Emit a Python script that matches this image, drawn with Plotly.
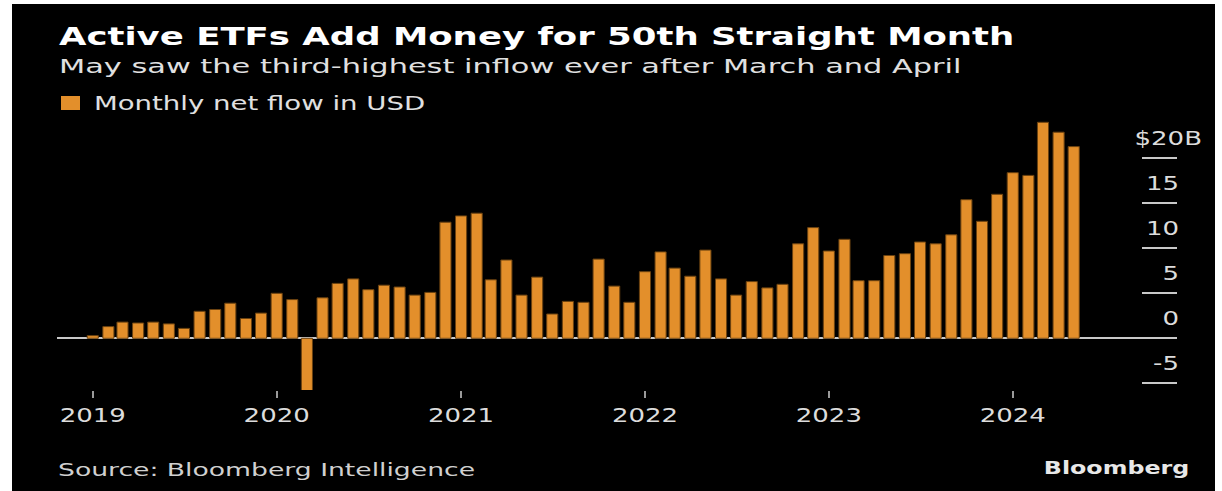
import plotly.graph_objects as go
import pandas as pd

# ---- data ----
months = pd.date_range("2019-01-01", "2024-05-01", freq="MS").strftime("%Y-%m-%d").tolist()
net_flow_busd = [
    0.3, 1.3, 1.8, 1.7, 1.8, 1.6, 1.1, 3.0, 3.2, 3.9, 2.2, 2.8,      # 2019
    5.0, 4.3, -5.8, 4.5, 6.1, 6.6, 5.4, 5.9, 5.7, 4.8, 5.1, 12.9,    # 2020
    13.6, 13.9, 6.5, 8.7, 4.8, 6.8, 2.7, 4.1, 4.0, 8.8, 5.8, 4.0,    # 2021
    7.4, 9.6, 7.8, 6.9, 9.8, 6.6, 4.8, 6.3, 5.6, 6.0, 10.5, 12.3,    # 2022
    9.7, 11.0, 6.4, 6.4, 9.2, 9.4, 10.7, 10.5, 11.5, 15.4, 13.0, 16.0,  # 2023
    18.4, 18.1, 24.0, 22.9, 21.3,                                    # 2024
]
year_ticks = ["2019-01-01", "2020-01-01", "2021-01-01", "2022-01-01", "2023-01-01", "2024-01-01"]
year_labels = ["2019", "2020", "2021", "2022", "2023", "2024"]
y_ticks = [-5, 0, 5, 10, 15, 20]
y_labels = ["-5", "0", "5", "10", "15", "$20B"]

title = "Active ETFs Add Money for 50th Straight Month"
subtitle = "May saw the third-highest inflow ever after March and April"
series_name = "Monthly net flow in USD"
source = "Source: Bloomberg Intelligence"
brand = "Bloomberg"

BAR = "#E38F2B"
FONT = "DejaVu Sans"
W, H = 1222, 491
L, R, T, B = 57, 45, 115, 101
PW, PH = W - L - R, H - T - B


def px(xpix):
    return (xpix - L) / PW


def py(ypix):
    return 1 + (T - ypix) / PH


fig = go.Figure()
fig.add_trace(go.Bar(
    x=months, y=net_flow_busd, name=series_name,
    marker=dict(color=BAR, line=dict(color="#6b4210", width=1)),
    width=22 * 86400000, showlegend=False,
))
# invisible trace on a narrow overlay axis so the y gridlines are only short right-hand segments
fig.add_trace(go.Scatter(x=[0, 1], y=[None, None], xaxis="x2", yaxis="y2",
                         showlegend=False, hoverinfo="skip"))

yr = [-(390 - 338.3) / 9, (338.3 - 115) / 9]
fig.update_layout(
    width=W, height=H,
    margin=dict(l=L, r=R, t=T, b=B),
    paper_bgcolor="black", plot_bgcolor="rgba(0,0,0,0)",
    font=dict(family=FONT, color="#d9d9d9"),
    showlegend=False,
    xaxis=dict(
        type="date", range=["2018-10-22", "2024-11-22"],
        tickvals=year_ticks, ticktext=year_labels,
        showgrid=False, zeroline=False, showline=False,
        ticks="outside", ticklen=7, tickwidth=2, tickcolor="#9a9a9a",
        tickfont=dict(size=20, color="#dcdcdc", family=FONT),
    ),
    yaxis=dict(
        range=yr, side="right",
        tickvals=y_ticks, ticktext=y_labels,
        ticklabelposition="inside top",
        showgrid=False, zeroline=True, zerolinecolor="#c8c8c8", zerolinewidth=2,
        showline=False, ticks="",
        tickfont=dict(size=20, color="#dcdcdc", family=FONT),
    ),
    xaxis2=dict(domain=[px(1142), 1], range=[0, 1], anchor="y2",
                showgrid=False, zeroline=False, showticklabels=False, ticks=""),
    yaxis2=dict(range=yr, overlaying="y", anchor="x2", side="right",
                tickvals=y_ticks, showticklabels=False, ticks="",
                showgrid=True, gridcolor="#c8c8c8", gridwidth=2, zeroline=False),
)

# white frame around the black card
for x0, x1, y0, y1 in [(0, 12, 0, H), (1215, W, 0, H), (0, W, 0, 4)]:
    fig.add_shape(type="rect", xref="paper", yref="paper",
                  x0=px(x0), x1=px(x1), y0=py(y1), y1=py(y0),
                  fillcolor="white", line_width=0, layer="above")

# legend swatch
fig.add_shape(type="rect", xref="paper", yref="paper",
              x0=px(61), x1=px(80), y0=py(110), y1=py(96),
              fillcolor=BAR, line_width=0)

fig.add_annotation(text=f"<b>{title}</b>", x=px(57), y=py(37), xref="paper", yref="paper",
                   xanchor="left", yanchor="middle", align="left", showarrow=False,
                   font=dict(size=25, color="white", family=FONT))
fig.add_annotation(text=subtitle, x=px(57), y=py(66), xref="paper", yref="paper",
                   xanchor="left", yanchor="middle", align="left", showarrow=False,
                   font=dict(size=19, color="#e0e0e0", family=FONT))
fig.add_annotation(text=series_name, x=px(92), y=py(103), xref="paper", yref="paper",
                   xanchor="left", yanchor="middle", align="left", showarrow=False,
                   font=dict(size=19, color="#e0e0e0", family=FONT))
fig.add_annotation(text=source, x=px(56), y=py(469), xref="paper", yref="paper",
                   xanchor="left", yanchor="middle", align="left", showarrow=False,
                   font=dict(size=18, color="#d0d0d0", family=FONT))
fig.add_annotation(text=f"<b>{brand}</b>", x=px(1191), y=py(467), xref="paper", yref="paper",
                   xanchor="right", yanchor="middle", align="right", showarrow=False,
                   font=dict(size=18, color="#e8e8e8", family=FONT))

# The reference typeface is much wider than DejaVu Sans: stretch text horizontally
post = """
document.body.style.margin='0';
var gd=document.getElementById('{plot_id}');
function st(el,s,mode,dx,dy){
  var b=el.getBBox();
  var p=mode==='l'?b.x:(mode==='r'?b.x+b.width:b.x+b.width/2);
  var t=el.getAttribute('transform')||'';
  el.setAttribute('transform',t+' translate('+(p+(dx||0))+','+(dy||0)+') scale('+s+',1) translate('+(-p)+',0)');
}
gd.querySelectorAll('.xtick text').forEach(function(e){st(e,1.3,'c');});
gd.querySelectorAll('.ytick text').forEach(function(e){
  var extra=(e.textContent.indexOf('B')>=0)?23:0;
  st(e,1.3,'r',5+extra,-6);
});
var sc=[1.42,1.60,1.45,1.48,1.32], md=['l','l','l','l','r'];
gd.querySelectorAll('.annotation-text').forEach(function(e,i){ if(i<sc.length){st(e,sc[i],md[i]);} });
"""

fig.write_html("out.html", post_script=post, config={"displayModeBar": False})
